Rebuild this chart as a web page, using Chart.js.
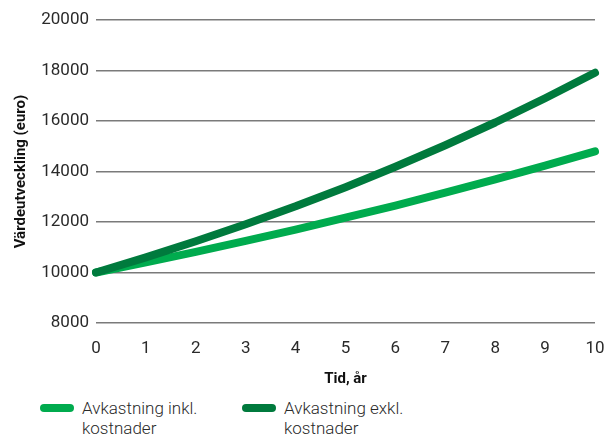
<!DOCTYPE html>
<html>
<head>
<meta charset="utf-8">
<script src="https://cdn.jsdelivr.net/npm/chart.js@4"></script>
<style>
  html, body { margin: 0; padding: 0; background: #fff; }
  #wrap { width: 606px; height: 390px; position: relative; }
  .legend { position: absolute; top: 398px; font: 300 17px Roboto, sans-serif; color: #2a2a2a; line-height: 20px; }
  .legend .swatch { position: absolute; left: 0; top: 6px; width: 34px; height: 8px; border-radius: 4px; }
  .legend .txt { position: absolute; left: 42px; top: 0; white-space: nowrap; }
</style>
</head>
<body>
<div id="wrap"><canvas id="chart"></canvas></div>
<div class="legend" style="left:40px"><div class="swatch" style="background:#00ab4e"></div><div class="txt">Avkastning inkl.<br>kostnader</div></div>
<div class="legend" style="left:242px"><div class="swatch" style="background:#007a3d"></div><div class="txt">Avkastning exkl.<br>kostnader</div></div>
<script>
/* ===== Data ===== */
const YEARS = [0, 1, 2, 3, 4, 5, 6, 7, 8, 9, 10];
const INKL = [10000, 10400, 10820, 11250, 11700, 12170, 12650, 13160, 13690, 14230, 14800];
const EXKL = [10000, 10600, 11240, 11910, 12620, 13380, 14190, 15040, 15940, 16900, 17910];
const Y_TICKS = [8000, 10000, 12000, 14000, 16000, 18000, 20000];

const LIGHT = '#00ab4e';
const DARK = '#007a3d';

Chart.defaults.font.family = "Roboto, sans-serif";
Chart.defaults.color = '#222';

const toPts = arr => YEARS.map((x, i) => ({ x, y: arr[i] }));

new Chart(document.getElementById('chart'), {
    type: 'line',
    data: {
        datasets: [
            { label: 'Avkastning inkl. kostnader', data: toPts(INKL), borderColor: LIGHT, borderWidth: 8, pointRadius: 0, borderCapStyle: 'round', borderJoinStyle: 'round', clip: false, order: 2 },
            { label: 'Avkastning exkl. kostnader', data: toPts(EXKL), borderColor: DARK, borderWidth: 8, pointRadius: 0, borderCapStyle: 'round', borderJoinStyle: 'round', clip: false, order: 1 }
        ]
    },
    options: {
        responsive: true,
        maintainAspectRatio: false,
        animation: false,
        layout: { padding: { top: 20, right: 11, left: 8, bottom: 0 } },
        plugins: { legend: { display: false }, tooltip: { enabled: false } },
        scales: {
            x: {
                type: 'linear', min: 0, max: 10,
                afterFit: axis => { axis.height = 67; axis.paddingLeft = 0; axis.paddingRight = 0; },
                grid: { display: false },
                border: { display: false },
                ticks: { stepSize: 1, font: { size: 17 }, color: '#2a2a2a', padding: 8 },
                title: { display: true, text: 'Tid, år', font: { size: 15, weight: 'bold' }, color: '#111', padding: { top: 4, bottom: 2 } }
            },
            y: {
                min: 8000, max: 20000,
                afterBuildTicks: axis => { axis.ticks = Y_TICKS.map(v => ({ value: v })); },
                afterFit: axis => { axis.width = 88; axis.paddingTop = 0; axis.paddingBottom = 0; },
                grid: { color: '#7a7a7a', lineWidth: 1.5, drawTicks: false },
                border: { display: false },
                ticks: { font: { size: 17 }, color: '#2a2a2a', padding: 7, callback: v => String(v) },
                title: { display: true, text: 'Värdeutveckling (euro)', font: { size: 15, weight: 'bold' }, color: '#111', padding: { bottom: 6 } }
            }
        }
    }
});
</script>
</body>
</html>
